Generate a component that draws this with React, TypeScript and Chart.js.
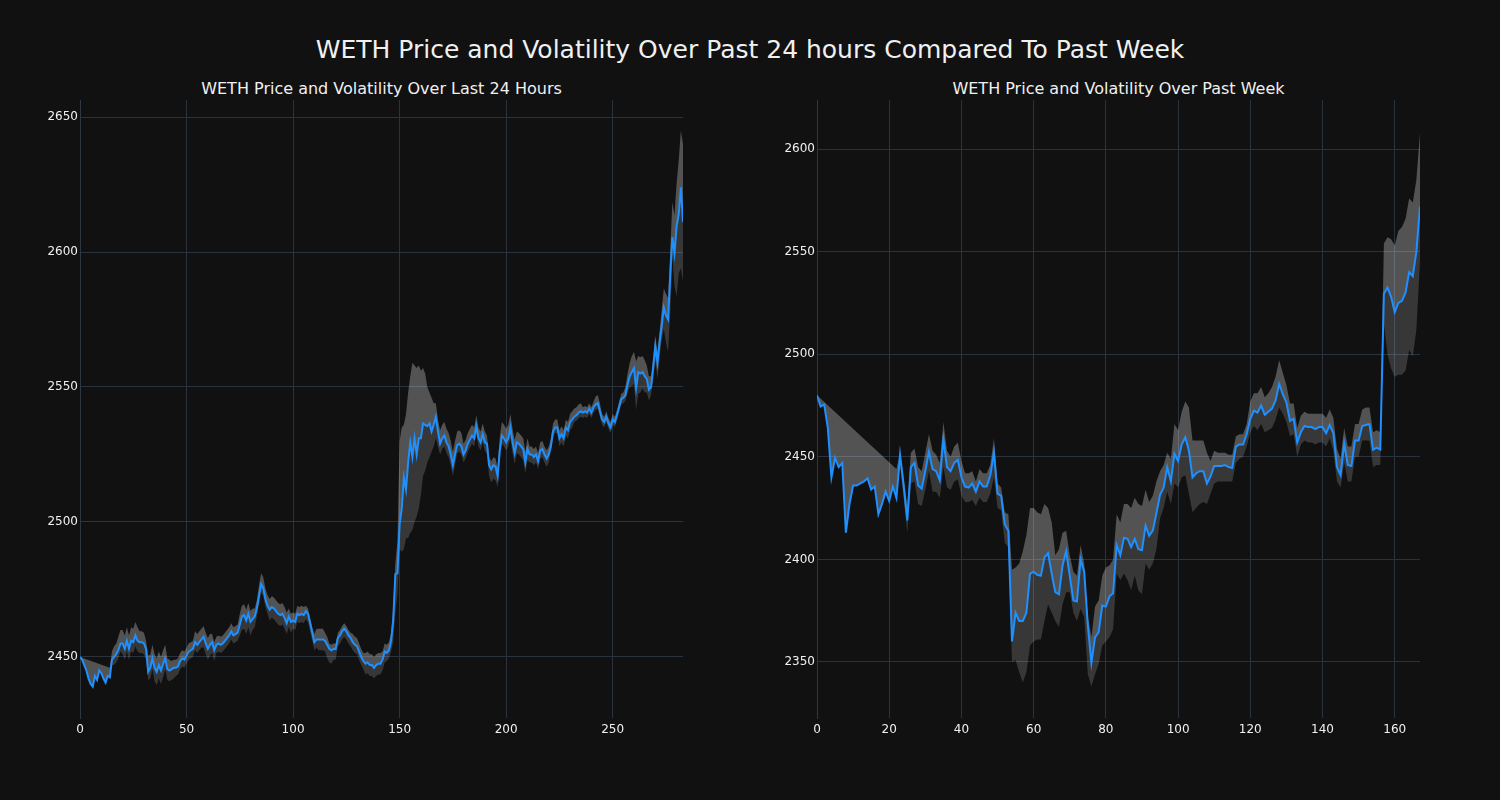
import React, { useEffect, useRef } from "react";
import { Chart, registerables } from "chart.js";
Chart.register(...registerables);

// ---------- Last 24 hours ----------
const leftPrice = [
  2450, 2449, 2447, 2445, 2442, 2440, 2439, 2443, 2441.5, 2445,
  2444, 2442, 2440.5, 2443, 2442.5, 2449, 2450, 2451, 2452.5, 2455,
  2455, 2453, 2456, 2453, 2456, 2455.5, 2458, 2456, 2455.5, 2455.5,
  2455, 2453, 2444.5, 2446, 2449.5, 2446, 2444.5, 2447, 2445, 2447.5,
  2449.5, 2445.5, 2445, 2445.5, 2446, 2446, 2446.5, 2448.5, 2449.5, 2449,
  2450.5, 2452, 2452.5, 2453, 2455.5, 2454.5, 2455.5, 2456.5, 2457.5, 2455,
  2453, 2454.5, 2455.5, 2452.5, 2454.5, 2455, 2454.5, 2455, 2456, 2457,
  2458, 2459.5, 2458, 2458.5, 2459, 2462, 2465, 2465.5, 2463.5, 2466,
  2463, 2464, 2465, 2468, 2472.5, 2477, 2475.5, 2471.5, 2469, 2467.5,
  2468.5, 2468, 2467, 2466, 2465.5, 2466, 2464.5, 2462.5, 2465, 2463,
  2463.5, 2463, 2466, 2465.5, 2466, 2465.5, 2467, 2466, 2462.5, 2459,
  2455.5, 2456.5, 2456.5, 2456.5, 2456.5, 2456, 2454.5, 2453, 2452.5, 2453,
  2453, 2457, 2458, 2459.5, 2460.5, 2459.5, 2458, 2457, 2455.5, 2454.5,
  2454, 2452, 2450, 2448.5, 2447.5, 2448, 2447, 2447, 2446, 2447,
  2447.5, 2447.5, 2449, 2452, 2451.5, 2452.5, 2456, 2463.5, 2480.7, 2481,
  2499, 2505, 2516.5, 2512, 2522, 2529.5, 2524, 2531, 2525, 2531,
  2531, 2536.5, 2536, 2535.5, 2536.5, 2533.5, 2536, 2539, 2533.5, 2529,
  2531, 2532, 2529.5, 2528, 2525, 2521, 2525, 2528.5, 2529, 2528,
  2525, 2526.5, 2529, 2530.5, 2532, 2531, 2535.5, 2531, 2529.5, 2532.5,
  2529.5, 2529, 2521, 2519.5, 2521, 2520.5, 2517, 2526.5, 2532, 2531,
  2529.5, 2531, 2535, 2529.5, 2525.5, 2529.5, 2529, 2528, 2527, 2522,
  2527, 2525, 2525, 2524, 2525, 2522.5, 2526.5, 2527, 2525, 2523.5,
  2525, 2528, 2533.5, 2535, 2535, 2531, 2532.5, 2531, 2535, 2534,
  2537, 2538, 2539, 2539.5, 2540.5, 2541, 2540.5, 2541, 2540.5, 2542,
  2540.5, 2542.5, 2543.5, 2544, 2541, 2538, 2537, 2539, 2536.5, 2535,
  2538, 2537, 2539.5, 2542.5, 2545.5, 2546, 2547, 2551, 2554, 2555.5,
  2557, 2549.5, 2555.5, 2555, 2555.5, 2554, 2553, 2549, 2550, 2557,
  2565, 2559, 2566.5, 2572.5, 2579.5, 2576.5, 2575, 2591, 2605.5, 2599.5,
  2609.5, 2614, 2624, 2611,
];
// volatility above / below the price (price units)
const leftVolUp = [
  0, null, null, null, null, null, null, null, null, null,
  null, null, null, null, 3.5, 3, 4, 4, 5, 5,
  5, 5, 5, 5, 5, 5, 5, 5, 4, 4,
  4, 3, 6, 5, 5, 5, 5, 5, 5, 5,
  5, 4, 4, 3, 3, 3, 3, 3, 3, 3,
  3, 3, 3, 3, 4, 4, 4, 4, 4, 4,
  4, 4, 3, 3, 3, 3, 3, 3, 3, 3,
  3, 3, 3, 3, 3, 4, 4, 4, 4, 4,
  4, 4, 3, 3, 4, 4, 4, 4, 4, 4,
  4, 4, 4, 4, 4, 4, 4, 4, 3, 3,
  3, 3, 3, 3, 3, 3, 2, 2, 2, 2,
  3, 4, 4, 4, 4, 3, 3, 2, 2, 2,
  2, 2, 2, 2, 2, 2, 2, 2, 3, 3,
  3, 3, 3, 3, 4, 4, 4, 4, 4, 4,
  4, 4, 3, 3, 3, 3, 3, 5, 4, 12,
  31, 30, 19.5, 28, 26, 24.5, 35, 27, 32, 27,
  25, 20.5, 19, 14.5, 11.5, 12.5, 8, 5, 4.5, 5,
  5, 5, 5, 5, 5, 5, 5, 5, 5, 5,
  4, 4, 4, 4, 4, 4, 4, 4, 4, 4,
  4, 3, 3, 3, 3, 3, 3, 5, 5, 5,
  5, 5, 5, 5, 5, 4, 4, 4, 4, 4,
  4, 3, 3, 3, 3, 3, 3, 3, 3, 3,
  3, 3, 3, 3, 3, 3, 3, 3, 3, 3,
  3, 3, 3, 3, 3, 3, 2, 2, 2, 2,
  2, 2, 3, 3, 3, 2, 2, 2, 2, 2,
  2, 2, 2, 2, 2, 2, 3, 4, 5, 6,
  6, 10, 6, 6, 6, 6, 5, 5, 4, 4,
  4, 4, 4, 6, 7, 8, 8, 9, 13, 14,
  16, 20, 21, 29,
];
const leftVolDn = [
  0, 0, 0, 0, 0, 0, 0, 0, 0, 0,
  0, 0, 0, 0, 0, 2, 3, 3, 3, 3,
  4, 4, 4, 4, 4, 4, 4, 4, 4, 4,
  4, 4, 3, 4, 4, 5, 5, 5, 5, 5,
  4, 4, 4, 4, 4, 3, 3, 3, 3, 3,
  3, 3, 3, 3, 3, 3, 3, 3, 4, 4,
  4, 4, 4, 4, 3, 3, 3, 3, 3, 3,
  3, 3, 3, 3, 3, 4, 5, 5, 5, 5,
  5, 4, 4, 3, 3, 3, 3, 3, 3, 4,
  4, 4, 4, 4, 4, 4, 4, 4, 4, 4,
  3, 3, 3, 3, 3, 3, 3, 3, 3, 3,
  3, 3, 4, 4, 4, 4, 5, 5, 5, 4,
  4, 3, 3, 3, 3, 3, 3, 3, 3, 3,
  3, 3, 3, 3, 4, 4, 4, 4, 4, 4,
  4, 4, 4, 4, 3, 3, 4, 8, 14, 8,
  9, 16, 26.5, 18, 28, 33.5, 27, 31, 23, 26,
  21, 19.5, 17, 13.5, 12.5, 7.5, 8, 8, 5.5, 4,
  4, 4, 4, 4, 4, 4, 4, 3, 3, 3,
  3, 3, 3, 3, 3, 3, 3, 3, 3, 3,
  3, 4, 4, 5, 5, 5, 4, 4, 3, 3,
  3, 3, 4, 4, 4, 4, 4, 4, 4, 4,
  4, 3, 3, 3, 3, 3, 3, 3, 3, 3,
  3, 2, 2, 2, 2, 3, 3, 3, 3, 3,
  3, 3, 2, 2, 2, 2, 2, 2, 2, 2,
  2, 2, 2, 2, 2, 2, 2, 2, 2, 2,
  2, 2, 2, 2, 2, 2, 2, 3, 4, 5,
  6, 8, 8, 7, 6, 6, 5, 4, 3, 4,
  5, 6, 6, 5, 8, 10, 12, 14, 7, 12,
  26, 22, 30, 22,
];
const leftXTicks = [0, 50, 100, 150, 200, 250];
const leftYTicks = [2450, 2500, 2550, 2600, 2650];

// ---------- Past week ----------
const rightPrice = [
  2480, 2474.5, 2475.5, 2464, 2440, 2449.5, 2445, 2447, 2413, 2427,
  2436, 2436, 2437, 2438, 2439.5, 2434, 2435.5, 2422, 2427, 2433,
  2428.5, 2435.5, 2430, 2451, 2436, 2419, 2445, 2447, 2436, 2434.5,
  2443, 2452.5, 2444, 2443, 2438.5, 2458.5, 2445, 2443, 2447, 2448.5,
  2440, 2435.5, 2435, 2437, 2433, 2438, 2435.5, 2435.5, 2441, 2452,
  2432, 2431, 2417, 2414, 2360, 2374, 2370, 2370, 2374, 2393,
  2394, 2392.5, 2392, 2401, 2403, 2393, 2384, 2383, 2397, 2404,
  2392, 2380, 2379.5, 2400, 2394, 2368, 2349.5, 2362, 2364.5, 2377.5,
  2377, 2382, 2383.5, 2407, 2402, 2410.5, 2410, 2406, 2410, 2405,
  2404.5, 2416.5, 2411.5, 2414, 2422.5, 2431.5, 2435, 2445, 2438, 2451.5,
  2448, 2456, 2459.5, 2453, 2440, 2442, 2443, 2443, 2437, 2440.5,
  2445.5, 2445.5, 2445.5, 2446, 2445, 2444.5, 2455, 2456, 2456, 2461,
  2468.5, 2472.5, 2471.5, 2475, 2470.5, 2472, 2473.5, 2477.5, 2485.5, 2480.5,
  2476.5, 2467.5, 2468.5, 2457, 2462, 2465, 2464.5, 2464.5, 2463.5, 2464.5,
  2464.5, 2461.5, 2465.5, 2461.5, 2445, 2441, 2456.5, 2446, 2445.5, 2458,
  2458, 2465, 2465.5, 2466, 2453.5, 2454.5, 2453.5, 2529.5, 2532.5, 2528,
  2520.5, 2525, 2526, 2530, 2540, 2538, 2550, 2572,
];
const rightUpper = [
  2480, null, null, null, null, null, null, null, null, null,
  null, null, null, null, null, null, null, null, null, null,
  null, null, 2444, 2452, 2440, 2426, 2452, 2454, 2445, 2443,
  2452, 2461, 2453, 2451, 2447, 2467, 2453, 2450, 2455, 2457,
  2448, 2442, 2442, 2443, 2438, 2444, 2442, 2442, 2446, 2459,
  2437, 2435, 2423, 2422, 2395, 2396, 2398, 2404, 2412, 2425,
  2425, 2423, 2422, 2427, 2425, 2418, 2402, 2405, 2413, 2414,
  2402, 2394, 2392, 2407, 2398, 2372, 2362, 2377, 2380, 2392,
  2396, 2397, 2400, 2422, 2418, 2427, 2427, 2425, 2430, 2427,
  2426, 2434, 2428, 2431, 2438, 2443, 2446, 2452, 2449, 2466,
  2463, 2472, 2477, 2474, 2458, 2458, 2458, 2458, 2452, 2448,
  2453, 2452, 2452, 2452, 2451, 2451, 2460, 2461, 2461, 2466,
  2477, 2481, 2481, 2484, 2479, 2481, 2484, 2489, 2497, 2491,
  2485, 2476, 2476, 2464, 2470, 2472, 2471, 2471, 2471, 2471,
  2471, 2469, 2473, 2469, 2454, 2449, 2464, 2455, 2455, 2466,
  2466, 2473, 2474, 2474, 2462, 2463, 2462, 2554, 2557, 2556,
  2553, 2560, 2562, 2566, 2576, 2574, 2585, 2608,
];
// null = band lower edge sits on the price
const rightLower = [
  null, null, null, null, null, null, null, null, null, null,
  null, null, null, null, null, null, null, null, null, null,
  null, null, 2428, 2445, 2430, 2413, 2437, 2438, 2427, 2426,
  2434, 2443, 2433, 2433, 2430, 2445, 2435, 2434, 2438, 2439,
  2431, 2428, 2428, 2429, 2426, 2430, 2428, 2428, 2432, 2440,
  2425, 2424, 2408, 2406, 2350, 2351, 2345, 2340, 2345, 2358,
  2360, 2361, 2361, 2370, 2378, 2374, 2370, 2367, 2378, 2384,
  2384, 2374, 2370, 2376, 2372, 2344, 2338, 2344, 2349, 2358,
  2360, 2362, 2366, 2393, 2390, 2393, 2390, 2385, 2392, 2385,
  2383, 2398, 2395, 2398, 2405, 2420, 2425, 2433, 2427, 2437,
  2435, 2440, 2441, 2432, 2423, 2425, 2427, 2428, 2427, 2432,
  2437, 2438, 2438, 2438, 2438, 2438, 2447, 2449, 2450, 2455,
  2462, 2465, 2463, 2466, 2462, 2463, 2464, 2468, 2474, 2471,
  2467, 2460, 2461, 2450, 2456, 2458, 2457, 2457, 2456, 2457,
  2457, 2455, 2459, 2453, 2438, 2435, 2447, 2438, 2438, 2450,
  2450, 2458, 2458, 2458, 2445, 2446, 2446, 2515, 2500, 2493,
  2489, 2490, 2490, 2492, 2502, 2499, 2512, 2545,
];
const rightXTicks = [0, 20, 40, 60, 80, 100, 120, 140, 160];
const rightYTicks = [2350, 2400, 2450, 2500, 2550, 2600];

const SUPTITLE = "WETH Price and Volatility Over Past 24 hours Compared To Past Week";
const LEFT_TITLE = "WETH Price and Volatility Over Last 24 Hours";
const RIGHT_TITLE = "WETH Price and Volatility Over Past Week";

const BG = "#111111";
const GRID = "#2a323c";
const TEXT = "#f0f0f0";
const LINE = "#1e90ff";
const LIGHT = "rgba(255,255,255,0.28)";
const DARK = "rgba(255,255,255,0.16)";
const FONT = "'DejaVu Sans', sans-serif";

function pts(arr: (number | null)[]) {
  return arr.map((y, i) => ({ x: i, y }));
}

function makeConfig(
  price: number[],
  upper: (number | null)[],
  lower: (number | null)[],
  xMax: number,
  yMin: number,
  yMax: number,
  xTicks: number[],
  yTicks: number[]
): any {
  return {
    type: "line",
    data: {
      datasets: [
        {
          data: pts(price),
          borderColor: LINE,
          borderWidth: 2,
          pointRadius: 0,
          tension: 0,
          fill: false,
        },
        {
          data: pts(upper),
          borderWidth: 0,
          borderColor: "rgba(0,0,0,0)",
          pointRadius: 0,
          spanGaps: true,
          backgroundColor: LIGHT,
          fill: { target: 0, above: LIGHT, below: LIGHT },
        },
        {
          data: pts(lower),
          borderWidth: 0,
          borderColor: "rgba(0,0,0,0)",
          pointRadius: 0,
          spanGaps: true,
          backgroundColor: DARK,
          fill: { target: 0, above: DARK, below: DARK },
        },
      ],
    },
    options: {
      animation: false,
      responsive: false,
      devicePixelRatio: 1,
      layout: { padding: { top: 10, right: 17, left: 0, bottom: 0 } },
      plugins: { legend: { display: false }, title: { display: false }, tooltip: { enabled: false } },
      scales: {
        x: {
          type: "linear",
          min: 0,
          max: xMax,
          afterBuildTicks: (s: any) => {
            s.ticks = xTicks.map((v) => ({ value: v }));
          },
          afterFit: (s: any) => {
            s.height = 32;
          },
          grid: { color: GRID, lineWidth: 1, drawTicks: false },
          border: { display: false },
          ticks: {
            color: TEXT,
            font: { family: FONT, size: 12 },
            padding: 5,
            maxRotation: 0,
            callback: (v: any) => String(v),
          },
        },
        y: {
          type: "linear",
          min: yMin,
          max: yMax,
          afterBuildTicks: (s: any) => {
            s.ticks = yTicks.map((v) => ({ value: v }));
          },
          afterFit: (s: any) => {
            s.width = 60;
          },
          grid: { color: GRID, lineWidth: 1, drawTicks: false },
          border: { display: true, color: "#2e3742", width: 1 },
          ticks: {
            color: TEXT,
            font: { family: FONT, size: 12 },
            padding: 2,
            callback: (v: any) => String(v),
          },
        },
      },
    },
  };
}

function Panel(props: { config: any; left: number; title: string }) {
  const ref = useRef<HTMLCanvasElement>(null);
  useEffect(() => {
    if (!ref.current) return;
    const chart = new Chart(ref.current, props.config);
    return () => chart.destroy();
  }, []);
  return (
    <>
      <div
        style={{
          position: "absolute",
          left: props.left + 60,
          width: 603,
          top: 79,
          textAlign: "center",
          color: TEXT,
          fontFamily: FONT,
          fontSize: 16,
          lineHeight: "20px",
          whiteSpace: "nowrap",
        }}
      >
        {props.title}
      </div>
      <canvas
        ref={ref}
        width={680}
        height={660}
        style={{ position: "absolute", left: props.left, top: 90, width: 680, height: 660 }}
      />
    </>
  );
}

export default function App() {
  const leftUpper = leftPrice.map((p, i) => (leftVolUp[i] === null ? null : p + (leftVolUp[i] as number)));
  const leftLower = leftPrice.map((p, i) => p - leftVolDn[i]);
  const rightLo = rightLower.map((v, i) => (v === null ? rightPrice[i] : v));

  const leftCfg = makeConfig(leftPrice, leftUpper, leftLower, 283, 2427.4, 2656.3, leftXTicks, leftYTicks);
  const rightCfg = makeConfig(rightPrice, rightUpper, rightLo, 167, 2322.7, 2623.9, rightXTicks, rightYTicks);

  return (
    <div
      style={{
        position: "absolute",
        left: 0,
        top: 0,
        width: 1500,
        height: 800,
        background: BG,
        overflow: "hidden",
      }}
    >
      <div
        style={{
          position: "absolute",
          left: 0,
          width: 1500,
          top: 35,
          textAlign: "center",
          color: TEXT,
          fontFamily: FONT,
          fontSize: 25,
          lineHeight: "30px",
          whiteSpace: "nowrap",
        }}
      >
        {SUPTITLE}
      </div>
      <Panel config={leftCfg} left={20} title={LEFT_TITLE} />
      <Panel config={rightCfg} left={757} title={RIGHT_TITLE} />
    </div>
  );
}
